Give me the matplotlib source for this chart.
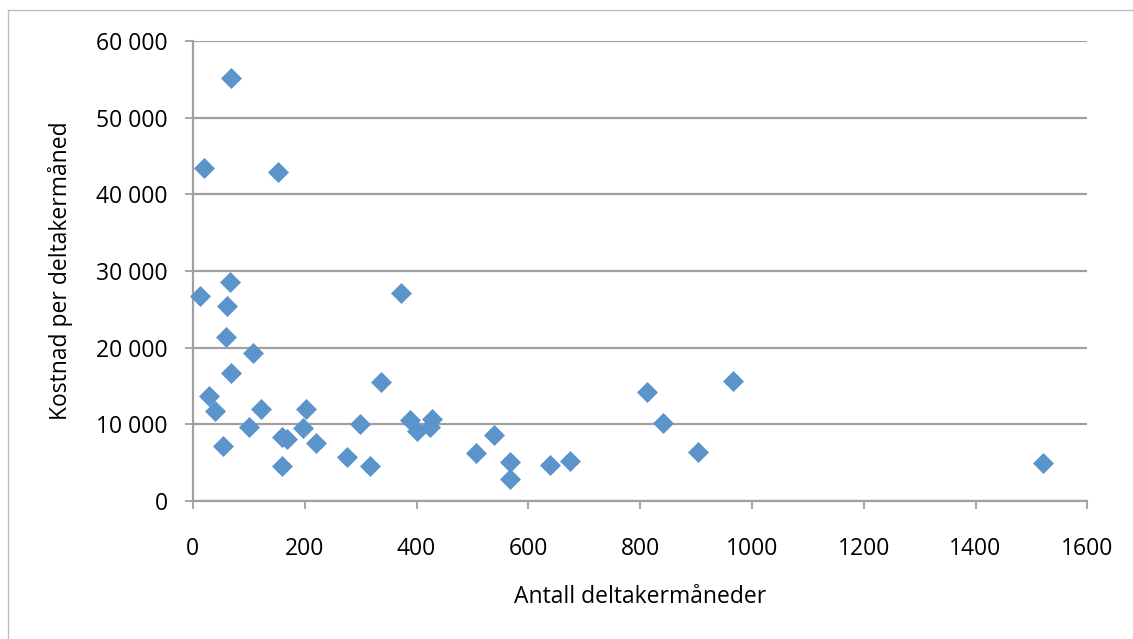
import matplotlib
matplotlib.use("Agg")
import matplotlib.pyplot as plt
from matplotlib.patches import Rectangle
from matplotlib.ticker import FuncFormatter

# Data
deltakermaaneder = [68, 20, 152, 67, 13, 61, 59, 107, 69, 29, 39, 121, 100, 53,
                    159, 168, 159, 202, 197, 220, 372, 336, 299, 275, 316, 388,
                    401, 427, 425, 506, 539, 568, 568, 638, 675, 813, 841, 903,
                    966, 1521]
kostnad = [55150, 43500, 42900, 28600, 26800, 25440, 21440, 19350, 16740, 13700,
           11780, 12040, 9690, 7210, 8380, 8040, 4560, 12040, 9480, 7600, 27180,
           15520, 10040, 5770, 4560, 10560, 9160, 10690, 9690, 6290, 8640, 5080,
           2900, 4730, 5250, 14220, 10130, 6380, 15650, 4990]
x_ticks = [0, 200, 400, 600, 800, 1000, 1200, 1400, 1600]
y_ticks = [0, 10000, 20000, 30000, 40000, 50000, 60000]
x_label = "Antall deltakermåneder"
y_label = "Kostnad per deltakermåned"

plt.rcParams['font.family'] = ['Open Sans', 'DejaVu Sans']

W, H = 1133, 639
fig = plt.figure(figsize=(W / 100, H / 100), dpi=100)
fig.patch.set_facecolor('white')

# outer chart border
fig.patches.append(Rectangle((8 / W, -0.05), 1.2, 1 - 10 / H + 0.05,
                             transform=fig.transFigure, fill=False,
                             edgecolor='#BEBEBE', linewidth=1.0))

left, right = 192.9 / W, 1087.3 / W
bottom, top = (H - 500.9) / H, (H - 41.3) / H
ax = fig.add_axes([left, bottom, right - left, top - bottom])

grid_c = '#A0A0A0'
ax.set_xlim(0, 1600)
ax.set_ylim(0, 60000)
ax.set_xticks(x_ticks)
ax.set_yticks(y_ticks)
ax.yaxis.set_major_formatter(FuncFormatter(lambda v, p: f"{int(v):,}".replace(",", " ")))
ax.xaxis.set_major_formatter(FuncFormatter(lambda v, p: f"{int(v)}"))

ax.grid(axis='y', color=grid_c, linewidth=1.6, zorder=0)
ax.set_axisbelow(True)
for s in ['top', 'right']:
    ax.spines[s].set_visible(False)
for s in ['left', 'bottom']:
    ax.spines[s].set_color(grid_c)
    ax.spines[s].set_linewidth(1.6)

ax.tick_params(axis='both', direction='out', length=6, width=1.3, color=grid_c,
               labelsize=16.5, labelcolor='black')
ax.tick_params(axis='y', pad=12)
ax.tick_params(axis='x', pad=20)

ax.plot(deltakermaaneder, kostnad, linestyle='none', marker='D', markersize=10.2,
        markerfacecolor='#5B93CB', markeredgecolor='#5B93CB', markeredgewidth=0.5,
        zorder=3, clip_on=False)

ax.set_xlabel(x_label, fontsize=16.5, labelpad=17)
ax.set_ylabel(y_label, fontsize=16.5, labelpad=17)

fig.savefig("out.png", dpi=100)
